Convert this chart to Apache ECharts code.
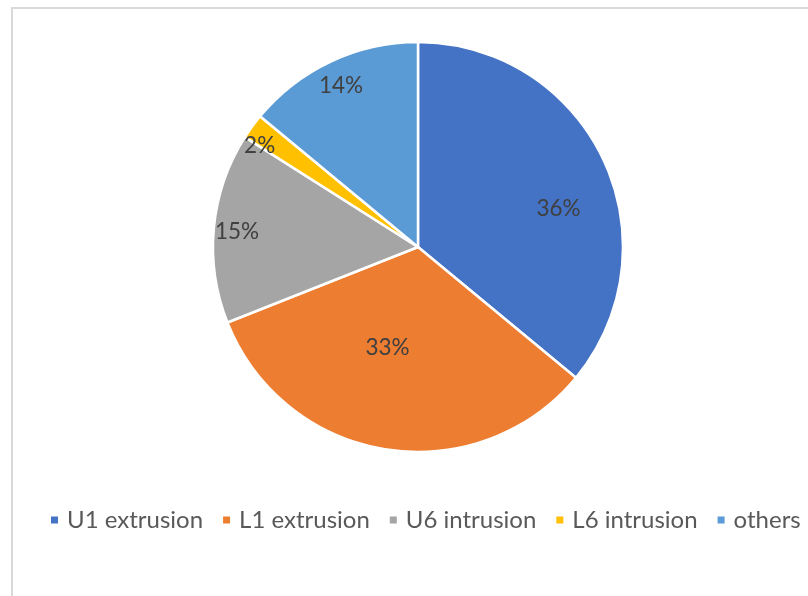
<!DOCTYPE html>
<html><head><meta charset="utf-8">
<script src="https://cdn.jsdelivr.net/npm/echarts@6/dist/echarts.min.js"></script>
<style>html,body{margin:0;padding:0;background:#fff}#c{width:808px;height:596px}</style>
</head><body><div id="c"></div>
<script>
const categories = ['U1 extrusion', 'L1 extrusion', 'U6 intrusion', 'L6 intrusion', 'others'];
const values = [36, 33, 15, 2, 14];
const colors = ['#4472C4', '#ED7D31', '#A5A5A5', '#FFC000', '#5B9BD5'];
const labelShift = [[45, 7], [-14, -3], [-76, -5], [-73, -39], [-32, -66]];

const chart = echarts.init(document.getElementById('c'));
chart.setOption({
  animation: false,
  graphic: [{type: 'rect', shape: {x: 12, y: 8, width: 900, height: 700}, style: {fill: 'none', stroke: '#d9d9d9', lineWidth: 2}, silent: true}],
  legend: {
    data: categories, left: 44, top: 503, itemWidth: 9, itemHeight: 9, itemGap: 18, icon: 'rect',
    textStyle: {fontFamily: 'Lato', fontSize: 24, color: '#595959', padding: [0, 0, 0, 3]}
  },
  series: [{
    type: 'pie', center: [418, 247], radius: 205, startAngle: 90, clockwise: true,
    itemStyle: {borderColor: '#fff', borderWidth: 2.5},
    label: {position: 'inside', formatter: '{c}%', fontFamily: 'Lato', fontSize: 22.5, color: '#404040'},
    labelLine: {show: false},
    data: categories.map((n, i) => ({name: n, value: values[i], itemStyle: {color: colors[i]}, label: {offset: labelShift[i]}}))
  }]
});
</script></body></html>
